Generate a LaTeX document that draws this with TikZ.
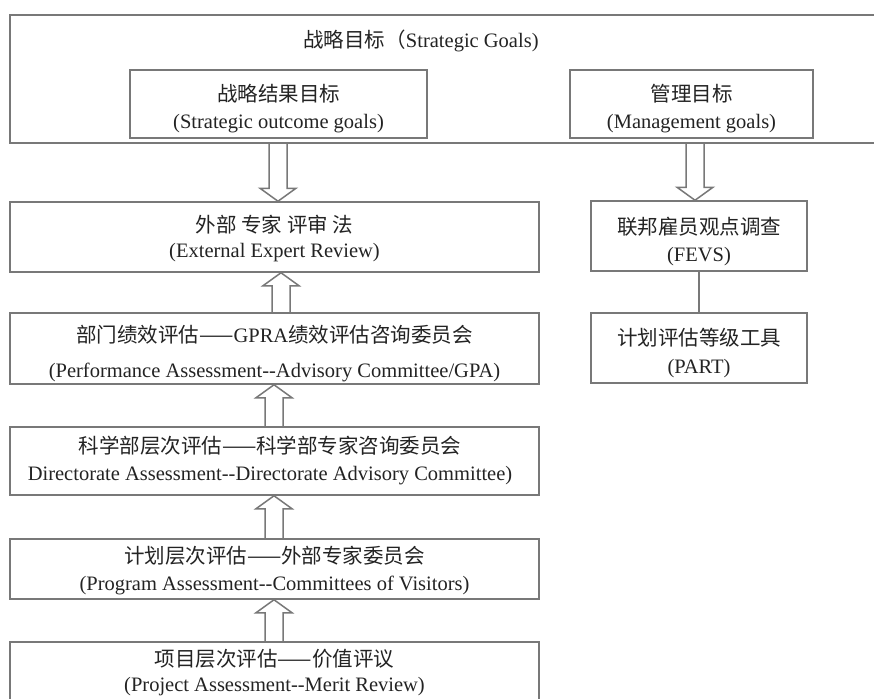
\documentclass[tikz,border=0pt]{standalone}
\usepackage{fontspec}
\setmainfont{Liberation Serif}
\newfontfamily\cjk{Noto Sans CJK SC}
\newcommand{\zh}[1]{{\cjk #1}}
\newcommand{\dd}{-\kern0pt-}
\usetikzlibrary{calc}
\definecolor{linec}{RGB}{120,120,120}
\definecolor{textc}{RGB}{35,35,35}
\tikzset{
  box/.style={draw=linec, line width=1.5pt, inner sep=0pt},
  txt/.style={inner sep=0pt, align=center, text=textc, font=\fontsize{20.5}{27}\selectfont},
  barrow/.style={draw=linec, line width=1.5pt, line join=miter},
  conn/.style={draw=linec, line width=1.5pt}
}
\newcommand{\arrowup}[3]{%
  \draw[barrow] let \p1=(#2), \p2=(#3) in
  ({#1pt-9pt},\y1) -- ({#1pt-9pt},{\y2-13pt}) -- ({#1pt-18pt},{\y2-13pt}) -- (#1pt,\y2)
  -- ({#1pt+18pt},{\y2-13pt}) -- ({#1pt+9pt},{\y2-13pt}) -- ({#1pt+9pt},\y1);}
\newcommand{\arrowdown}[3]{%
  \draw[barrow] let \p1=(#2), \p2=(#3) in
  ({#1pt-9pt},\y1) -- ({#1pt-9pt},{\y2+13pt}) -- ({#1pt-18pt},{\y2+13pt}) -- (#1pt,\y2)
  -- ({#1pt+18pt},{\y2+13pt}) -- ({#1pt+9pt},{\y2+13pt}) -- ({#1pt+9pt},\y1);}
\begin{document}
\begin{tikzpicture}[x=1pt,y=-1pt]
\fill[white] (0,0) rectangle (874,698);
\useasboundingbox (0,0) rectangle (874,698);

% outer container
\node[box, minimum width=880pt, minimum height=128pt] (outer) at (450,79) {};
\node[txt] (title) at (421,41) {\zh{战略目标（}Strategic Goals)};

\node[box, minimum width=297pt, minimum height=68pt] (s1) at (278.5,104) {};
\node[txt] (s1t) at (278.5,108.5) {\zh{战略结果目标}\\(Strategic outcome goals)};
\node[box, minimum width=243pt, minimum height=68pt] (m1) at (691.5,104) {};
\node[txt] (m1t) at (691.5,108.5) {\zh{管理目标}\\(Management goals)};

% left column
\node[box, minimum width=529pt, minimum height=70pt] (b1) at (274.5,237) {};
\node[txt] (b1t) at (274.5,238.5) {\zh{外部 专家 评审 法}\\[-2pt](External Expert Review)};
\node[box, minimum width=529pt, minimum height=71pt] (b2) at (274.5,348.5) {};
\node[txt] (b2t) at (274.5,353.5) {\zh{部门绩效评估——}GPRA\zh{绩效评估咨询委员会}\\[8pt](Performance Assessment\dd Advisory Committee/GPA)};
\node[box, minimum width=529pt, minimum height=68pt] (b3) at (274.5,461) {};
\node[txt] (b3t) at (270,460.5) {\zh{科学部层次评估——科学部专家咨询委员会}\\Directorate Assessment\dd Directorate Advisory Committee)};
\node[box, minimum width=529pt, minimum height=60pt] (b4) at (274.5,569) {};
\node[txt] (b4t) at (274.5,570.5) {\zh{计划层次评估——外部专家委员会}\\(Program Assessment\dd Committees of Visitors)};
\node[box, minimum width=529pt, minimum height=70pt] (b5) at (274.5,677) {};
\node[txt] (b5t) at (274.5,673) {\zh{项目层次评估——价值评议}\\[-2pt](Project Assessment\dd Merit Review)};

% right column
\node[box, minimum width=216pt, minimum height=70pt] (fevs) at (699,236) {};
\node[txt] (fevst) at (699,241.5) {\zh{联邦雇员观点调查}\\(FEVS)};
\node[box, minimum width=216pt, minimum height=70pt] (part) at (699,348) {};
\node[txt] (partt) at (699,353) {\zh{计划评估等级工具}\\[1pt](PART)};

% connectors
\arrowdown{278}{outer.south}{b1.north}
\arrowdown{695}{outer.south}{fevs.north}
\arrowup{281}{b2.north}{b1.south}
\arrowup{274}{b3.north}{b2.south}
\arrowup{274}{b4.north}{b3.south}
\arrowup{274}{b5.north}{b4.south}
\draw[conn] (fevs.south) -- (part.north);
\end{tikzpicture}
\end{document}
